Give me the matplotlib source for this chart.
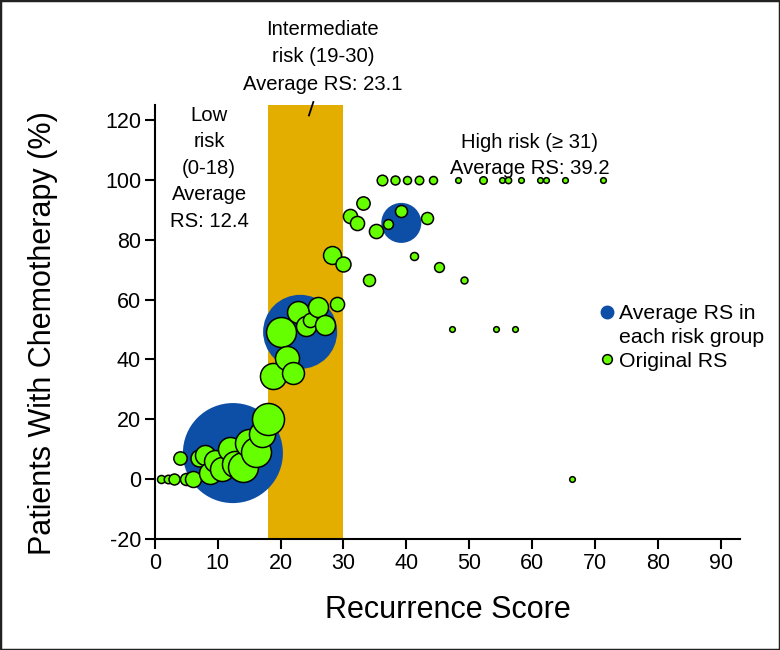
import matplotlib
matplotlib.use("Agg")
import matplotlib.pyplot as plt
from matplotlib.lines import Line2D
from matplotlib.patches import Rectangle

# --- data -----------------------------------------------------------------
# individual recurrence scores (x), % patients with chemo (y), relative n
low_rs = [1, 2, 3, 4, 5, 6, 7, 8, 8.7, 9.6, 10.7, 12, 12.8, 14, 15, 16, 17, 18]
low_pct = [0, 0, 0, 7, 0, 0, 7, 8, 2, 6, 3.5, 10, 5, 4, 12, 9, 15, 20]
low_n = [8, 9, 15, 22, 18, 32, 36, 50, 60, 60, 72, 72, 85, 112, 98, 112, 85, 128]

int_rs = [18.8, 20, 21, 22, 22.8, 24, 24.7, 26, 27, 28.2, 29, 30]
int_pct = [34.5, 49, 40.5, 35.5, 56, 51, 53, 57.5, 51.5, 75, 58.5, 72]
int_n = [85, 112, 72, 60, 60, 50, 25, 50, 50, 40, 25, 28]

high_rs = [31, 32.1, 33.1, 34.1, 35.2, 36.1, 37.1, 38.2, 39.2, 40.1, 41.2, 42,
           43.3, 44.2, 45.2, 47.3, 48.2, 49.2, 52.2, 54.3, 55.2, 56.2, 57.3,
           58.3, 61.3, 62.3, 65.3, 66.4, 71.3]
high_pct = [88, 85.6, 92.3, 66.6, 83, 100, 85.3, 100, 89.6, 100, 74.6, 100,
            87.3, 100, 71, 50, 100, 66.6, 100, 50, 100, 100, 50,
            100, 100, 100, 100, 0, 100]
high_n = [25, 25, 22, 18, 25, 14, 12, 10, 18, 8, 8, 9,
          18, 8, 12, 4, 4, 6, 7, 4, 4, 5, 4,
          4, 4, 4, 4, 4, 4]

# group averages
avg_rs = [12.4, 23.1, 39.2]
avg_pct = [8.7, 49.2, 85.6]
avg_n = [1250, 685, 200]

int_band = (18, 30)

BLUE = "#0d4ea6"
GREEN = "#66ff00"
GOLD = "#e3ae00"
FONT = "Liberation Sans"
SCALE = 4.15  # marker area (pt^2) per patient unit

plt.rcParams["font.family"] = [FONT, "DejaVu Sans"]
plt.rcParams["axes.unicode_minus"] = False

fig = plt.figure(figsize=(7.8, 6.5), dpi=100)
ax = fig.add_axes([0.1987, 0.1708, 0.75, 0.6677])

ax.axvspan(*int_band, color=GOLD, lw=0, zorder=0)

ax.scatter(avg_rs, avg_pct, s=[n * SCALE for n in avg_n], color=BLUE,
           linewidths=0, zorder=2)

rs = low_rs + int_rs + high_rs
pct = low_pct + int_pct + high_pct
n = low_n + int_n + high_n
for xi, yi, ni in zip(rs, pct, n):
    ax.scatter([xi], [yi], s=ni * SCALE, color=GREEN, edgecolors="black",
               linewidths=1.1, zorder=3)

ax.set_xlim(0, 93.1)
ax.set_ylim(-20, 125)
ax.set_xticks(range(0, 91, 10))
ax.set_yticks(range(-20, 121, 20))
for s in ("top", "right"):
    ax.spines[s].set_visible(False)
for s in ("left", "bottom"):
    ax.spines[s].set_linewidth(1.5)
ax.tick_params(direction="out", length=7, width=1.5, labelsize=15.5, pad=3)

ax.set_xlabel("Recurrence Score", fontsize=22)
ax.set_ylabel("Patients With Chemotherapy (%)", fontsize=22)
ax.xaxis.set_label_coords(0.5, -0.128)
ax.yaxis.set_label_coords(-0.165, 0.475)

ax.text(8.6, 103.8, "Low\nrisk\n(0-18)\nAverage\nRS: 12.4", ha="center",
        va="center", fontsize=14.6, linespacing=1.5)
ax.text(26.7, 141.1, "Intermediate\nrisk (19-30)\nAverage RS: 23.1",
        ha="center", va="center", fontsize=14.6, linespacing=1.55)
ax.plot([24.5, 25.2], [121.5, 126], color="black", lw=1.3, clip_on=False)
ax.text(59.6, 108.2, "High risk (\u2265 31)\nAverage RS: 39.2", ha="center",
        va="center", fontsize=14.6, linespacing=1.5)

handles = [
    Line2D([], [], marker="o", ls="", color=BLUE, markersize=9),
    Line2D([], [], ls="", marker=None),
    Line2D([], [], marker="o", ls="", markerfacecolor=GREEN,
           markeredgecolor="black", markeredgewidth=1.1, markersize=7),
]
ax.legend(handles, ["Average RS in", "each risk group", "Original RS"],
          loc="upper left", bbox_to_anchor=(0.764, 0.541), frameon=False,
          fontsize=15.3, handlelength=0.5, handletextpad=0.3,
          labelspacing=0.22, borderpad=0, borderaxespad=0)

fig.patches.append(Rectangle((0, 0), 1, 1, transform=fig.transFigure,
                             fill=False, lw=2.5, edgecolor="#222222"))

fig.savefig("out.png", dpi=100)
